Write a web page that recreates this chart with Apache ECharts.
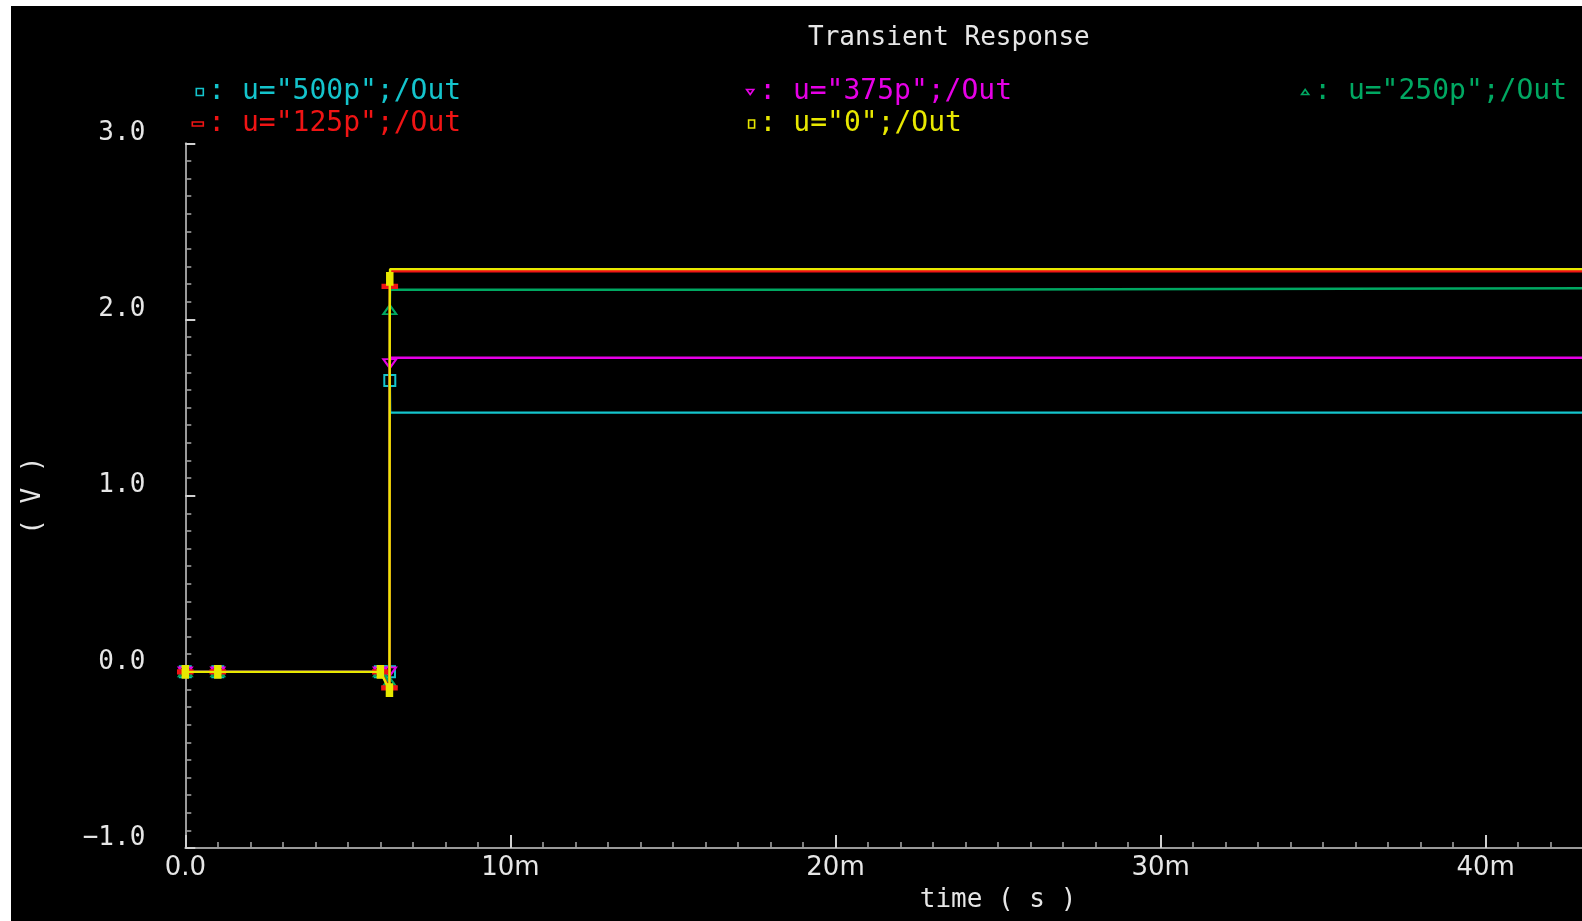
<!DOCTYPE html>
<html>
<head>
<meta charset="utf-8">
<title>Transient Response</title>
<script src="https://cdn.jsdelivr.net/npm/echarts@6/dist/echarts.min.js"></script>
<style>
  html, body { margin: 0; padding: 0; background: #ffffff; width: 1582px; height: 921px; overflow: hidden; }
  #chart { position: absolute; left: 11px; top: 6px; width: 1571px; height: 915px; background: #000000; }
</style>
</head>
<body>
<div id="chart"></div>
<script>
// Sample times (ms) of the simulated output
const timeMs = [0, 1.0, 6.0, 6.28, 6.29, 6.30, 21.2, 21.21, 50];

// Output voltage (V) for each parameter value u
const out500p = [0, 0, 0, 0.0, 1.654, 1.471, 1.471, 1.471, 1.471];
const out375p = [0, 0, 0, 0.0, 1.749, 1.783, 1.783, 1.783, 1.783];
const out250p = [0, 0, 0, -0.057, 2.056, 2.169, 2.169, 2.180, 2.180];
const out125p = [0, 0, 0, -0.091, 2.188, 2.274, 2.274, 2.274, 2.274];
const out0 = [0, 0, 0, -0.104, 2.231, 2.286, 2.286, 2.286, 2.286];

// Legend names and axis ticks
const seriesNames = ['u="500p";/Out', 'u="375p";/Out', 'u="250p";/Out', 'u="125p";/Out', 'u="0";/Out'];
const xTicksMs = [0, 10, 20, 30, 40];
const yTicks = [-1, 0, 1, 2, 3];

// Number of leading points that carry a marker
const markedPoints = 5;

const MONO = '"DejaVu Sans Mono", "Liberation Mono", monospace';
const SANS = '"DejaVu Sans", "Liberation Sans", sans-serif';

const styles = [
  { color: '#14c4cc', symbol: 'rect', size: [11, 11], rotate: 0, fill: false,
    icon: 'rect', iconW: 7, iconH: 7, textStart: 196.5, row: 0 },
  { color: '#e600e6', symbol: 'triangle', size: [13, 9], rotate: 180, fill: false,
    icon: 'path://M0,0L10,0L5,7Z', iconW: 8, iconH: 5, textStart: 747.8, row: 0 },
  { color: '#00a862', symbol: 'triangle', size: [13, 9], rotate: 0, fill: false,
    icon: 'path://M5,0L10,7L0,7Z', iconW: 8, iconH: 5, textStart: 1302.8, row: 0 },
  { color: '#f01414', symbol: 'rect', size: [13, 4], rotate: 0, fill: true,
    icon: 'rect', iconW: 11, iconH: 4, textStart: 196.5, row: 1 },
  { color: '#e8e800', symbol: 'rect', size: [6, 11], rotate: 0, fill: true,
    icon: 'rect', iconW: 6, iconH: 8, textStart: 747.8, row: 1 }
];

const values = [out500p, out375p, out250p, out125p, out0];
const rowCenters = [86, 118];

const series = values.map(function (vals, i) {
  const s = styles[i];
  return {
    name: seriesNames[i],
    type: 'line',
    data: timeMs.map(function (t, k) { return [t, vals[k]]; }),
    showAllSymbol: true,
    symbol: function (v, p) { return p.dataIndex < markedPoints ? s.symbol : 'none'; },
    symbolSize: s.size,
    symbolRotate: s.rotate,
    lineStyle: { color: s.color, width: 2.4 },
    itemStyle: {
      color: s.fill ? s.color : 'rgba(0,0,0,0)',
      borderColor: s.color,
      borderWidth: 2
    },
    emphasis: { disabled: true },
    silent: true,
    z: 2 + i
  };
});

const legends = styles.map(function (s, i) {
  return {
    left: s.textStart - 5 - s.iconW,
    top: rowCenters[s.row] - 14,
    padding: 0,
    itemGap: 0,
    selectedMode: false,
    itemWidth: s.iconW,
    itemHeight: s.iconH,
    formatter: ': {name}',
    textStyle: { color: s.color, fontFamily: MONO, fontSize: 28, lineHeight: 28 },
    data: [{
      name: seriesNames[i],
      icon: s.icon,
      itemStyle: { color: 'rgba(0,0,0,0)', borderColor: s.color, borderWidth: 1.6 }
    }]
  };
});

const chart = echarts.init(document.getElementById('chart'), null, { renderer: 'canvas' });

chart.setOption({
  backgroundColor: '#000000',
  animation: false,
  title: {
    text: 'Transient Response',
    left: 797,
    top: 19,
    padding: 0,
    textStyle: { color: '#e6e6e6', fontFamily: MONO, fontSize: 26, fontWeight: 'normal' }
  },
  legend: legends,
  grid: {
    left: 174.3, top: 137.3, bottom: 73, right: -228.8,
    containLabel: false, outerBoundsMode: 'none'
  },
  xAxis: {
    type: 'value',
    min: xTicksMs[0],
    max: 50,
    interval: xTicksMs[1] - xTicksMs[0],
    name: 'time ( s )',
    nameLocation: 'middle',
    nameGap: 39,
    nameTextStyle: { color: '#e6e6e6', fontFamily: MONO, fontSize: 26 },
    axisLine: { show: true, onZero: false, lineStyle: { color: '#9a9a9a', width: 2 } },
    axisTick: { show: true, inside: true, length: 13, lineStyle: { color: '#d0d0d0', width: 2 } },
    minorTick: { show: true, splitNumber: 10, length: 6, lineStyle: { color: '#a0a0a0', width: 1.6 } },
    splitLine: { show: false },
    minorSplitLine: { show: false },
    axisLabel: {
      color: '#e6e6e6', fontFamily: SANS, fontSize: 26, margin: 7,
      formatter: function (v) { return v === 0 ? '0.0' : v + 'm'; }
    }
  },
  yAxis: {
    type: 'value',
    min: yTicks[0],
    max: yTicks[yTicks.length - 1],
    interval: yTicks[1] - yTicks[0],
    name: '( V )',
    nameLocation: 'middle',
    nameGap: 139,
    nameTextStyle: { color: '#e6e6e6', fontFamily: MONO, fontSize: 26 },
    axisLine: { show: true, onZero: false, lineStyle: { color: '#9a9a9a', width: 2 } },
    axisTick: { show: true, inside: true, length: 10, lineStyle: { color: '#d0d0d0', width: 2 } },
    minorTick: { show: true, splitNumber: 10, length: 6, lineStyle: { color: '#a0a0a0', width: 1.6 } },
    splitLine: { show: false },
    minorSplitLine: { show: false },
    axisLabel: {
      color: '#e6e6e6', fontFamily: MONO, fontSize: 26, margin: 40,
      verticalAlign: 'bottom', lineHeight: 20,
      formatter: function (v) { return (v < 0 ? '\u2212' : '') + Math.abs(v).toFixed(1); }
    }
  },
  series: series
});
</script>
</body>
</html>
